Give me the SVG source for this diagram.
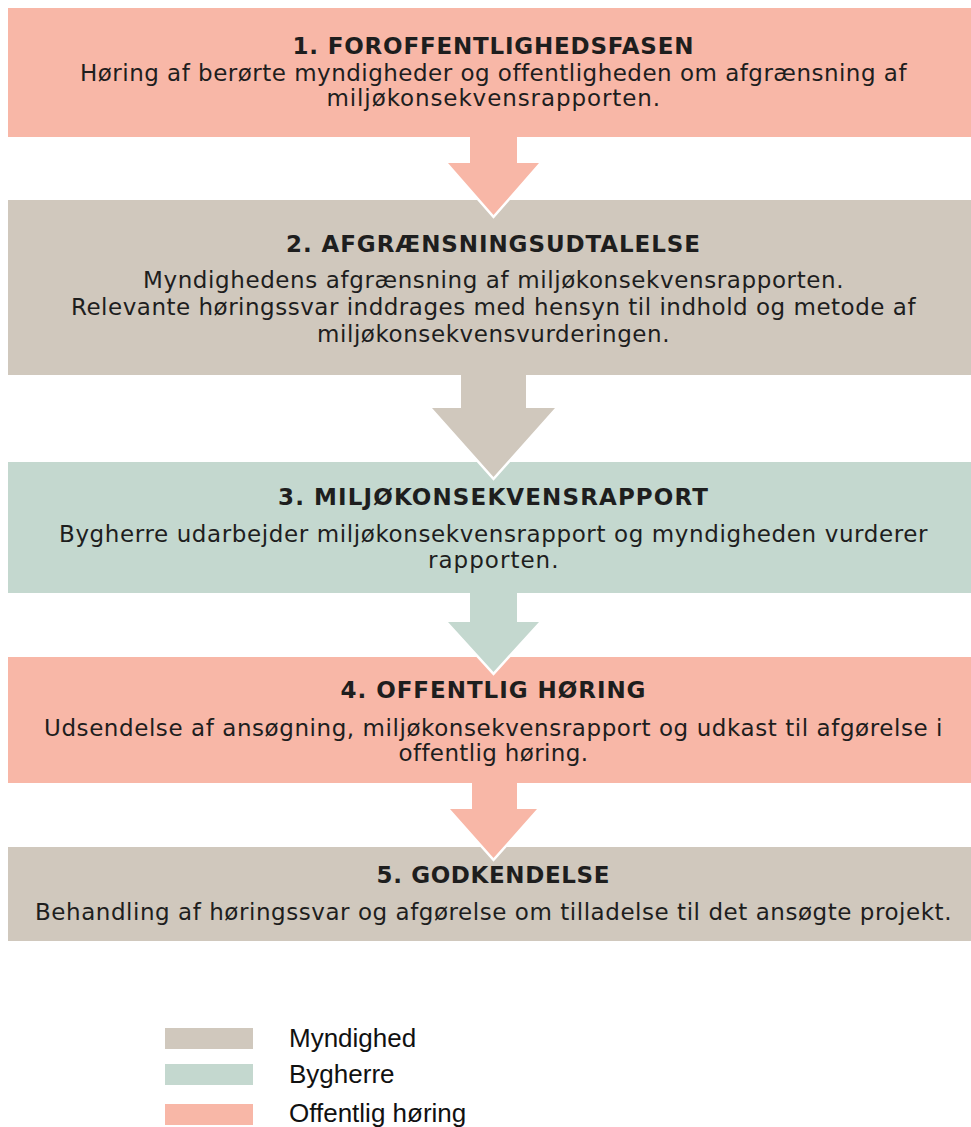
<svg xmlns="http://www.w3.org/2000/svg" width="971" height="1127" viewBox="0 0 971 1127">
<style>
.pub{fill:#F8B7A7}
.auth{fill:#D0C8BD}
.dev{fill:#C4D8CF}
.t{font-family:"DejaVu Sans",Verdana,sans-serif;font-weight:bold;font-size:23px;fill:#1e1e1e;text-anchor:middle;letter-spacing:1px}
.b{font-family:"DejaVu Sans",Verdana,sans-serif;font-size:23px;fill:#1e1e1e;text-anchor:middle;letter-spacing:0.5px}
.halo{fill:none;stroke:#ffffff;stroke-width:5;stroke-linejoin:miter}
.lg{font-family:"Liberation Sans",Arial,sans-serif;font-size:26px;fill:#111111}
</style>
<rect width="971" height="1127" fill="#ffffff"/>
<g id="node1">
<rect class="pub" x="8" y="8" width="971" height="129"/>
<text class="t" x="493.5" y="54" textLength="402" lengthAdjust="spacing">1. FOROFFENTLIGHEDSFASEN</text>
<text class="b" x="493.5" y="81" textLength="827" lengthAdjust="spacing">Høring af berørte myndigheder og offentligheden om afgrænsning af</text>
<text class="b" x="493.5" y="106" textLength="334" lengthAdjust="spacing">miljøkonsekvensrapporten.</text>
</g>
<g id="node2">
<rect class="auth" x="8" y="200" width="971" height="175"/>
<text class="t" x="493.5" y="252" textLength="415" lengthAdjust="spacing">2. AFGRÆNSNINGSUDTALELSE</text>
<text class="b" x="493.5" y="288" textLength="701" lengthAdjust="spacing">Myndighedens afgrænsning af miljøkonsekvensrapporten.</text>
<text class="b" x="493.5" y="315" textLength="845" lengthAdjust="spacing">Relevante høringssvar inddrages med hensyn til indhold og metode af</text>
<text class="b" x="493.5" y="342" textLength="353" lengthAdjust="spacing">miljøkonsekvensvurderingen.</text>
</g>
<g id="node3">
<rect class="dev" x="8" y="462" width="971" height="131"/>
<text class="t" x="493.5" y="505" textLength="431" lengthAdjust="spacing">3. MILJØKONSEKVENSRAPPORT</text>
<text class="b" x="493.5" y="542" textLength="869" lengthAdjust="spacing">Bygherre udarbejder miljøkonsekvensrapport og myndigheden vurderer</text>
<text class="b" x="493.5" y="568" textLength="131" lengthAdjust="spacing">rapporten.</text>
</g>
<g id="node4">
<rect class="pub" x="8" y="657" width="971" height="126"/>
<text class="t" x="493.5" y="698" textLength="306" lengthAdjust="spacing">4. OFFENTLIG HØRING</text>
<text class="b" x="493.5" y="736" textLength="899" lengthAdjust="spacing">Udsendelse af ansøgning, miljøkonsekvensrapport og udkast til afgørelse i</text>
<text class="b" x="493.5" y="761" textLength="190" lengthAdjust="spacing">offentlig høring.</text>
</g>
<g id="node5">
<rect class="auth" x="8" y="847" width="971" height="94"/>
<text class="t" x="493.5" y="883" textLength="234" lengthAdjust="spacing">5. GODKENDELSE</text>
<text class="b" x="493.5" y="920" textLength="917" lengthAdjust="spacing">Behandling af høringssvar og afgørelse om tilladelse til det ansøgte projekt.</text>
</g>
<g id="connectors">
<g id="arrow1">
<polygon class="halo" points="448,163 539,163 493.5,215"/>
<polygon class="pub" points="470,136 517,136 517,163 539,163 493.5,215 448,163 470,163"/>
</g>
<g id="arrow2">
<polygon class="halo" points="432,408 555,408 493.5,477"/>
<polygon class="auth" points="461,374 526,374 526,408 555,408 493.5,477 432,408 461,408"/>
</g>
<g id="arrow3">
<polygon class="halo" points="448,622 539,622 493.5,672"/>
<polygon class="dev" points="470,592 517,592 517,622 539,622 493.5,672 448,622 470,622"/>
</g>
<g id="arrow4">
<polygon class="halo" points="450,809 537,809 493.5,858"/>
<polygon class="pub" points="472,782 517,782 517,809 537,809 493.5,858 450,809 472,809"/>
</g>
</g>
<g id="legend">
<rect class="auth" x="165" y="1028" width="88" height="21"/>
<text class="lg" x="289" y="1047">Myndighed</text>
<rect class="dev" x="165" y="1064" width="88" height="21"/>
<text class="lg" x="289" y="1083">Bygherre</text>
<rect class="pub" x="165" y="1104" width="88" height="21"/>
<text class="lg" x="289" y="1122">Offentlig høring</text>
</g>
</svg>
